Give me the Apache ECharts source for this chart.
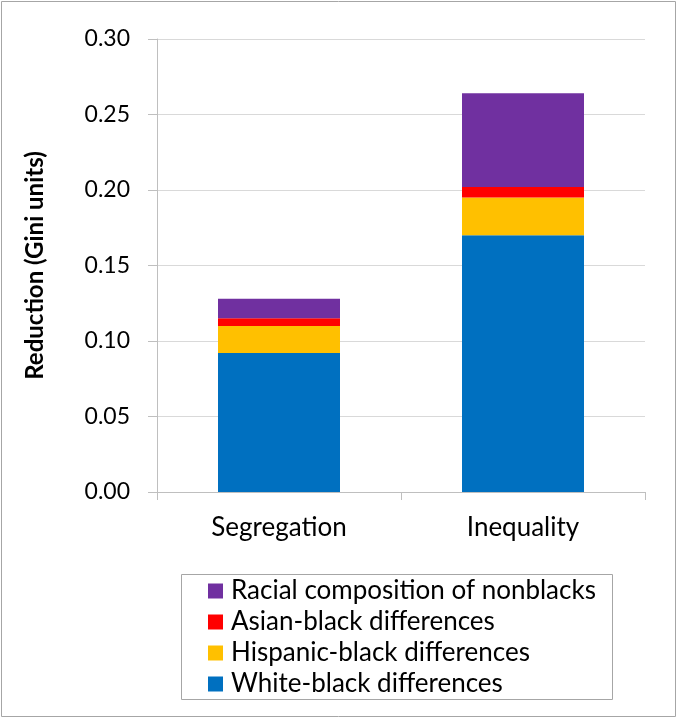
<!DOCTYPE html>
<html>
<head>
<meta charset="utf-8">
<script src="https://cdn.jsdelivr.net/npm/echarts@6/dist/echarts.min.js"></script>
<style>
html,body{margin:0;padding:0;background:#fff;}
#chart{width:677px;height:718px;}
</style>
</head>
<body>
<div id="chart"></div>
<script>
var categories = ['Segregation', 'Inequality'];
var whiteBlack = [0.092, 0.170];
var hispanicBlack = [0.018, 0.025];
var asianBlack = [0.005, 0.007];
var racialComposition = [0.013, 0.062];
var yTicks = [0, 0.05, 0.10, 0.15, 0.20, 0.25, 0.30];

var FONT = 'Lato';
var chart = echarts.init(document.getElementById('chart'));
function bar(name, data, color) {
  return { name: name, type: 'bar', stack: 'total', data: data, barCategoryGap: '50%',
    itemStyle: { color: color }, emphasis: { disabled: true } };
}
chart.setOption({
  animation: false,
  backgroundColor: '#fff',
  textStyle: { fontFamily: FONT },
  graphic: [
    { type: 'rect', shape: { x: 1.5, y: 1.5, width: 674, height: 715 },
      style: { fill: 'none', stroke: '#a6a6a6', lineWidth: 1 }, silent: true },
    { type: 'rect', shape: { x: 181.5, y: 574.5, width: 431, height: 125 },
      style: { fill: 'none', stroke: '#a6a6a6', lineWidth: 1 }, silent: true }
  ],
  grid: { left: 157, right: 32, top: 39, bottom: 226, containLabel: false },
  legend: {
    orient: 'vertical', left: 203, top: 573,
    data: ['Racial composition of nonblacks', 'Asian-black differences', 'Hispanic-black differences', 'White-black differences'],
    itemWidth: 15, itemHeight: 15, itemGap: 5,
    icon: 'rect',
    textStyle: { fontFamily: FONT, fontSize: 26, color: '#000', padding: [0, 0, 0, 3] }
  },
  xAxis: {
    type: 'category', data: categories,
    axisLine: { show: true, lineStyle: { color: '#bfbfbf' } },
    axisTick: { show: true, length: 8, lineStyle: { color: '#bfbfbf' } },
    axisLabel: { fontFamily: FONT, fontSize: 26, color: '#000', margin: 23 }
  },
  yAxis: {
    type: 'value', min: 0, max: 0.30, interval: 0.05,
    name: 'Reduction (Gini units)', nameLocation: 'middle', nameGap: 110,
    nameTextStyle: { fontFamily: FONT, fontSize: 24, fontWeight: 'bold', color: '#000' },
    axisLine: { show: true, lineStyle: { color: '#bfbfbf' } },
    axisTick: { show: true, length: 9, lineStyle: { color: '#bfbfbf' } },
    axisLabel: { fontFamily: FONT, fontSize: 23, color: '#000', margin: 27,
      formatter: function (v) { return v.toFixed(2); } },
    splitLine: { show: true, lineStyle: { color: '#d9d9d9' } }
  },
  series: [
    bar('White-black differences', whiteBlack, '#0070C0'),
    bar('Hispanic-black differences', hispanicBlack, '#FFC000'),
    bar('Asian-black differences', asianBlack, '#FF0000'),
    bar('Racial composition of nonblacks', racialComposition, '#7030A0')
  ]
});
</script>
</body>
</html>
